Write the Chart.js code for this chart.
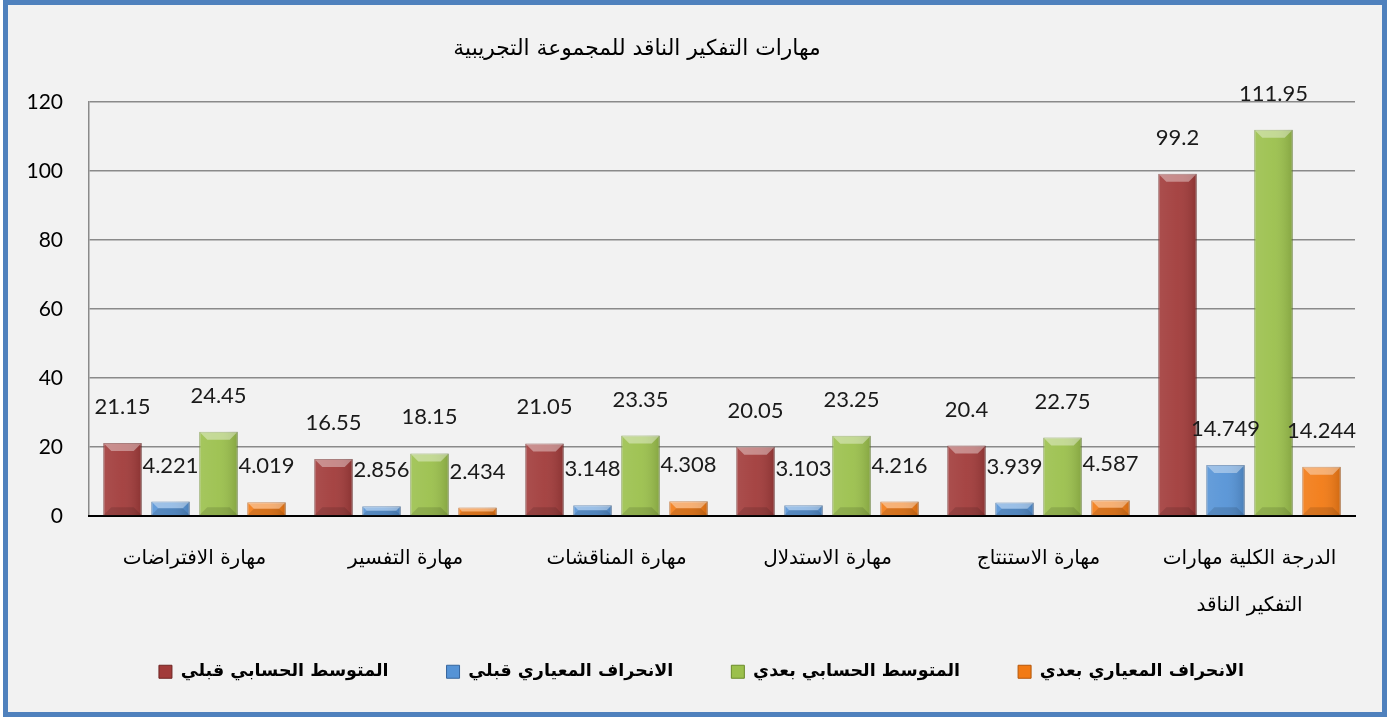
<!DOCTYPE html>
<html lang="ar">
<head>
<meta charset="utf-8">
<title>مهارات التفكير الناقد للمجموعة التجريبية</title>
<script src="https://cdn.jsdelivr.net/npm/chart.js@4/dist/chart.umd.min.js"></script>
<style>
    html, body { margin: 0; padding: 0; background: #ffffff; }
    #frame {
        position: absolute; left: 3px; top: 0; width: 1384px; height: 717px;
        box-sizing: border-box; border: 5px solid #4f81bd; background: #f2f2f2;
    }
    #chartBox { position: relative; width: 100%; height: 100%; }
    #chartTitle {
        position: absolute; left: 629px; top: 42px; transform: translate(-50%, -50%);
        font-family: 'DejaVu Sans', sans-serif; font-size: 21.8px; color: #000; white-space: nowrap;
        direction: rtl;
    }
</style>
</head>
<body>
<div id="frame">
    <div id="chartBox"><canvas id="skillsChart"></canvas></div>
    <div id="chartTitle">مهارات التفكير الناقد للمجموعة التجريبية</div>
</div>
<script>
// categories and values
const categories = [
    'مهارة الافتراضات',
    'مهارة التفسير',
    'مهارة المناقشات',
    'مهارة الاستدلال',
    'مهارة الاستنتاج',
    ['الدرجة الكلية مهارات', 'التفكير الناقد']
];
const seriesNames = ['المتوسط الحسابي قبلي', 'الانحراف المعياري قبلي', 'المتوسط الحسابي بعدي', 'الانحراف المعياري بعدي'];
const meanBefore = [21.15, 16.55, 21.05, 20.05, 20.4, 99.2];
const sdBefore = [4.221, 2.856, 3.148, 3.103, 3.939, 14.749];
const meanAfter = [24.45, 18.15, 23.35, 23.25, 22.75, 111.95];
const sdAfter = [4.019, 2.434, 4.308, 4.216, 4.587, 14.244];
const labelText = [
    ['21.15', '16.55', '21.05', '20.05', '20.4', '99.2'],
    ['4.221', '2.856', '3.148', '3.103', '3.939', '14.749'],
    ['24.45', '18.15', '23.35', '23.25', '22.75', '111.95'],
    ['4.019', '2.434', '4.308', '4.216', '4.587', '14.244']
];
const yTicks = [0, 20, 40, 60, 80, 100, 120];

const fills = ['#a13b3a', '#5593d6', '#9bc04c', '#f27a14'];
const edges = ['#6e2423', '#36659c', '#6a8a2a', '#b4560a'];

const arabicFont = "'DejaVu Sans', sans-serif";
const numFont = "Lato, 'Open Sans', sans-serif";

// Excel-like bevel on top of every bar
const bevelPlugin = {
    id: 'bevel',
    afterDatasetsDraw(chart) {
        const ctx = chart.ctx;
        chart.data.datasets.forEach((ds, i) => {
            const meta = chart.getDatasetMeta(i);
            meta.data.forEach(bar => {
                const p = bar.getProps(['x', 'y', 'base', 'width'], true);
                const l = p.x - p.width / 2, r = p.x + p.width / 2;
                const h = p.base - p.y;
                const b = Math.min(8, h / 2);
                ctx.save();
                const g = ctx.createLinearGradient(l, 0, r, 0);
                g.addColorStop(0, 'rgba(255,255,255,0.10)');
                g.addColorStop(0.5, 'rgba(255,255,255,0.05)');
                g.addColorStop(1, 'rgba(0,0,0,0.14)');
                ctx.fillStyle = g;
                ctx.fillRect(l, p.y, p.width, h);
                // top bevel
                ctx.fillStyle = 'rgba(255,255,255,0.38)';
                ctx.beginPath();
                ctx.moveTo(l, p.y); ctx.lineTo(r, p.y);
                ctx.lineTo(r - b, p.y + b); ctx.lineTo(l + b, p.y + b);
                ctx.closePath(); ctx.fill();
                // bottom shade
                ctx.fillStyle = 'rgba(0,0,0,0.12)';
                ctx.beginPath();
                ctx.moveTo(l, p.base); ctx.lineTo(r, p.base);
                ctx.lineTo(r - b, p.base - b); ctx.lineTo(l + b, p.base - b);
                ctx.closePath(); ctx.fill();
                ctx.restore();
            });
        });
    }
};

// value labels above the bars
const valueLabels = {
    id: 'valueLabels',
    afterDatasetsDraw(chart) {
        const ctx = chart.ctx;
        ctx.save();
        ctx.font = '22px ' + numFont;
        ctx.fillStyle = '#1a1a1a';
        ctx.textAlign = 'center';
        ctx.textBaseline = 'middle';
        chart.data.datasets.forEach((ds, i) => {
            chart.getDatasetMeta(i).data.forEach((bar, j) => {
                ctx.fillText(labelText[i][j], bar.x, bar.y - 36);
            });
        });
        ctx.restore();
    }
};

// keep the wide gaps between legend items but let the legend sit higher
const legendPlace = {
    id: 'legendPlace',
    afterInit(chart) {
        const lg = chart.legend;
        if (!lg) return;
        const fit = lg.fit;
        lg.fit = function() { fit.call(this); this.height = 80; };
    },
    afterLayout(chart) {
        const lg = chart.legend;
        if (!lg) return;
        lg.top -= 27;
        lg.bottom -= 27;
        lg.left += 20;
        lg.right += 20;
    }
};

document.addEventListener('DOMContentLoaded', function() {
    const ctx = document.getElementById('skillsChart');
    const values = [meanBefore, sdBefore, meanAfter, sdAfter];
    new Chart(ctx, {
        type: 'bar',
        data: {
            labels: categories,
            datasets: values.map((v, i) => ({
                label: seriesNames[i],
                data: v,
                backgroundColor: fills[i],
                borderColor: edges[i],
                borderWidth: 1
            }))
        },
        options: {
            responsive: true,
            maintainAspectRatio: false,
            animation: false,
            datasets: { bar: { categoryPercentage: 0.91, barPercentage: 0.8 } },
            layout: { padding: { left: 0, right: 27, top: 97, bottom: 0 } },
            plugins: {
                title: { display: false },
                legend: {
                    position: 'bottom',
                    labels: {
                        color: '#000000',
                        font: { family: arabicFont, size: 17.5, weight: 'bold' },
                        boxWidth: 13,
                        boxHeight: 13,
                        padding: 58
                    }
                },
                tooltip: { enabled: false }
            },
            scales: {
                y: {
                    min: 0,
                    max: 120,
                    afterBuildTicks: axis => { axis.ticks = yTicks.map(v => ({ value: v })); },
                    afterFit: axis => { axis.width = 81; },
                    ticks: { color: '#000000', font: { family: numFont, size: 21 }, padding: 26 },
                    grid: { color: '#8a8a8a', lineWidth: 1.5, drawTicks: false },
                    border: { color: '#8a8a8a', width: 1.5 }
                },
                x: {
                    afterFit: axis => { axis.height = 116; },
                    ticks: { color: '#000000', font: { family: arabicFont, size: 20, lineHeight: 2.35 }, padding: 19, maxRotation: 0 },
                    grid: { display: false, drawTicks: false },
                    border: { color: '#000000', width: 2 }
                }
            }
        },
        plugins: [bevelPlugin, valueLabels, legendPlace]
    });
});
</script>
</body>
</html>
